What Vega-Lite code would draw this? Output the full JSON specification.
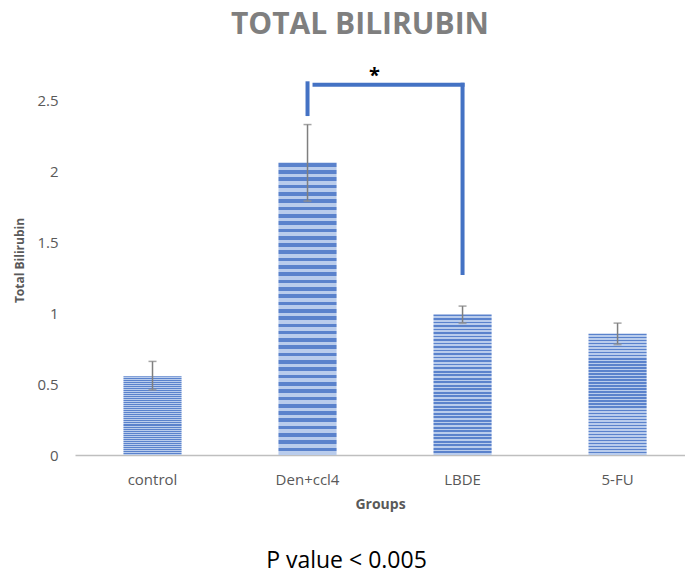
{
  "$schema": "https://vega.github.io/schema/vega-lite/v6.json",
  "background": "white",
  "padding": {"left": 13, "top": 10, "right": 0, "bottom": 0},
  "config": {
    "view": {"stroke": null},
    "font": "Open Sans"
  },
  "title": {
    "text": "P value < 0.005",
    "orient": "bottom",
    "anchor": "middle",
    "fontSize": 23,
    "fontWeight": "normal",
    "color": "#000000",
    "font": "Open Sans",
    "offset": 39,
    "dx": -3
  },
  "datasets": {
    "bars": [
      {"group": "control", "mean": 0.555, "lo": 0.46, "hi": 0.66},
      {"group": "Den+ccl4", "mean": 2.06, "lo": 1.79, "hi": 2.33},
      {"group": "LBDE", "mean": 0.99, "lo": 0.93, "hi": 1.05},
      {"group": "5-FU", "mean": 0.855, "lo": 0.78, "hi": 0.93}
    ],
    "bracketV": [
      {"g": "Den+ccl4", "y1": 2.39, "y2": 2.635},
      {"g": "LBDE", "y1": 1.27, "y2": 2.625}
    ],
    "bracketH": [
      {"g1": "Den+ccl4", "g2": "LBDE", "y": 2.61}
    ],
    "star": [
      {"g": "Den+ccl4", "y": 2.7, "label": "*"}
    ]
  },
  "vconcat": [
    {
      "width": 610,
      "height": 390,
      "title": {
        "text": "TOTAL BILIRUBIN",
        "anchor": "middle",
        "fontSize": 30,
        "fontWeight": "bold",
        "color": "#7F7F7F",
        "font": "Open Sans",
        "offset": 25,
        "dx": -20
      },
      "layer": [
        {
          "data": {"name": "bars"},
          "mark": {
            "type": "bar",
            "color": {
              "gradient": "linear",
              "x1": 0, "y1": 0, "x2": 0, "y2": 1,
              "stops": [
                {"offset": 0, "color": "#5A82CC"}, {"offset": 0.0125, "color": "#5A82CC"},
                {"offset": 0.0125, "color": "#B9CCEC"}, {"offset": 0.025, "color": "#B9CCEC"},
                {"offset": 0.025, "color": "#5A82CC"}, {"offset": 0.0375, "color": "#5A82CC"},
                {"offset": 0.0375, "color": "#B9CCEC"}, {"offset": 0.05, "color": "#B9CCEC"},
                {"offset": 0.05, "color": "#5A82CC"}, {"offset": 0.0625, "color": "#5A82CC"},
                {"offset": 0.0625, "color": "#B9CCEC"}, {"offset": 0.075, "color": "#B9CCEC"},
                {"offset": 0.075, "color": "#5A82CC"}, {"offset": 0.0875, "color": "#5A82CC"},
                {"offset": 0.0875, "color": "#B9CCEC"}, {"offset": 0.1, "color": "#B9CCEC"},
                {"offset": 0.1, "color": "#5A82CC"}, {"offset": 0.1125, "color": "#5A82CC"},
                {"offset": 0.1125, "color": "#B9CCEC"}, {"offset": 0.125, "color": "#B9CCEC"},
                {"offset": 0.125, "color": "#5A82CC"}, {"offset": 0.1375, "color": "#5A82CC"},
                {"offset": 0.1375, "color": "#B9CCEC"}, {"offset": 0.15, "color": "#B9CCEC"},
                {"offset": 0.15, "color": "#5A82CC"}, {"offset": 0.1625, "color": "#5A82CC"},
                {"offset": 0.1625, "color": "#B9CCEC"}, {"offset": 0.175, "color": "#B9CCEC"},
                {"offset": 0.175, "color": "#5A82CC"}, {"offset": 0.1875, "color": "#5A82CC"},
                {"offset": 0.1875, "color": "#B9CCEC"}, {"offset": 0.2, "color": "#B9CCEC"},
                {"offset": 0.2, "color": "#5A82CC"}, {"offset": 0.2125, "color": "#5A82CC"},
                {"offset": 0.2125, "color": "#B9CCEC"}, {"offset": 0.225, "color": "#B9CCEC"},
                {"offset": 0.225, "color": "#5A82CC"}, {"offset": 0.2375, "color": "#5A82CC"},
                {"offset": 0.2375, "color": "#B9CCEC"}, {"offset": 0.25, "color": "#B9CCEC"},
                {"offset": 0.25, "color": "#5A82CC"}, {"offset": 0.2625, "color": "#5A82CC"},
                {"offset": 0.2625, "color": "#B9CCEC"}, {"offset": 0.275, "color": "#B9CCEC"},
                {"offset": 0.275, "color": "#5A82CC"}, {"offset": 0.2875, "color": "#5A82CC"},
                {"offset": 0.2875, "color": "#B9CCEC"}, {"offset": 0.3, "color": "#B9CCEC"},
                {"offset": 0.3, "color": "#5A82CC"}, {"offset": 0.3125, "color": "#5A82CC"},
                {"offset": 0.3125, "color": "#B9CCEC"}, {"offset": 0.325, "color": "#B9CCEC"},
                {"offset": 0.325, "color": "#5A82CC"}, {"offset": 0.3375, "color": "#5A82CC"},
                {"offset": 0.3375, "color": "#B9CCEC"}, {"offset": 0.35, "color": "#B9CCEC"},
                {"offset": 0.35, "color": "#5A82CC"}, {"offset": 0.3625, "color": "#5A82CC"},
                {"offset": 0.3625, "color": "#B9CCEC"}, {"offset": 0.375, "color": "#B9CCEC"},
                {"offset": 0.375, "color": "#5A82CC"}, {"offset": 0.3875, "color": "#5A82CC"},
                {"offset": 0.3875, "color": "#B9CCEC"}, {"offset": 0.4, "color": "#B9CCEC"},
                {"offset": 0.4, "color": "#5A82CC"}, {"offset": 0.4125, "color": "#5A82CC"},
                {"offset": 0.4125, "color": "#B9CCEC"}, {"offset": 0.425, "color": "#B9CCEC"},
                {"offset": 0.425, "color": "#5A82CC"}, {"offset": 0.4375, "color": "#5A82CC"},
                {"offset": 0.4375, "color": "#B9CCEC"}, {"offset": 0.45, "color": "#B9CCEC"},
                {"offset": 0.45, "color": "#5A82CC"}, {"offset": 0.4625, "color": "#5A82CC"},
                {"offset": 0.4625, "color": "#B9CCEC"}, {"offset": 0.475, "color": "#B9CCEC"},
                {"offset": 0.475, "color": "#5A82CC"}, {"offset": 0.4875, "color": "#5A82CC"},
                {"offset": 0.4875, "color": "#B9CCEC"}, {"offset": 0.5, "color": "#B9CCEC"},
                {"offset": 0.5, "color": "#5A82CC"}, {"offset": 0.5125, "color": "#5A82CC"},
                {"offset": 0.5125, "color": "#B9CCEC"}, {"offset": 0.525, "color": "#B9CCEC"},
                {"offset": 0.525, "color": "#5A82CC"}, {"offset": 0.5375, "color": "#5A82CC"},
                {"offset": 0.5375, "color": "#B9CCEC"}, {"offset": 0.55, "color": "#B9CCEC"},
                {"offset": 0.55, "color": "#5A82CC"}, {"offset": 0.5625, "color": "#5A82CC"},
                {"offset": 0.5625, "color": "#B9CCEC"}, {"offset": 0.575, "color": "#B9CCEC"},
                {"offset": 0.575, "color": "#5A82CC"}, {"offset": 0.5875, "color": "#5A82CC"},
                {"offset": 0.5875, "color": "#B9CCEC"}, {"offset": 0.6, "color": "#B9CCEC"},
                {"offset": 0.6, "color": "#5A82CC"}, {"offset": 0.6125, "color": "#5A82CC"},
                {"offset": 0.6125, "color": "#B9CCEC"}, {"offset": 0.625, "color": "#B9CCEC"},
                {"offset": 0.625, "color": "#5A82CC"}, {"offset": 0.6375, "color": "#5A82CC"},
                {"offset": 0.6375, "color": "#B9CCEC"}, {"offset": 0.65, "color": "#B9CCEC"},
                {"offset": 0.65, "color": "#5A82CC"}, {"offset": 0.6625, "color": "#5A82CC"},
                {"offset": 0.6625, "color": "#B9CCEC"}, {"offset": 0.675, "color": "#B9CCEC"},
                {"offset": 0.675, "color": "#5A82CC"}, {"offset": 0.6875, "color": "#5A82CC"},
                {"offset": 0.6875, "color": "#B9CCEC"}, {"offset": 0.7, "color": "#B9CCEC"},
                {"offset": 0.7, "color": "#5A82CC"}, {"offset": 0.7125, "color": "#5A82CC"},
                {"offset": 0.7125, "color": "#B9CCEC"}, {"offset": 0.725, "color": "#B9CCEC"},
                {"offset": 0.725, "color": "#5A82CC"}, {"offset": 0.7375, "color": "#5A82CC"},
                {"offset": 0.7375, "color": "#B9CCEC"}, {"offset": 0.75, "color": "#B9CCEC"},
                {"offset": 0.75, "color": "#5A82CC"}, {"offset": 0.7625, "color": "#5A82CC"},
                {"offset": 0.7625, "color": "#B9CCEC"}, {"offset": 0.775, "color": "#B9CCEC"},
                {"offset": 0.775, "color": "#5A82CC"}, {"offset": 0.7875, "color": "#5A82CC"},
                {"offset": 0.7875, "color": "#B9CCEC"}, {"offset": 0.8, "color": "#B9CCEC"},
                {"offset": 0.8, "color": "#5A82CC"}, {"offset": 0.8125, "color": "#5A82CC"},
                {"offset": 0.8125, "color": "#B9CCEC"}, {"offset": 0.825, "color": "#B9CCEC"},
                {"offset": 0.825, "color": "#5A82CC"}, {"offset": 0.8375, "color": "#5A82CC"},
                {"offset": 0.8375, "color": "#B9CCEC"}, {"offset": 0.85, "color": "#B9CCEC"},
                {"offset": 0.85, "color": "#5A82CC"}, {"offset": 0.8625, "color": "#5A82CC"},
                {"offset": 0.8625, "color": "#B9CCEC"}, {"offset": 0.875, "color": "#B9CCEC"},
                {"offset": 0.875, "color": "#5A82CC"}, {"offset": 0.8875, "color": "#5A82CC"},
                {"offset": 0.8875, "color": "#B9CCEC"}, {"offset": 0.9, "color": "#B9CCEC"},
                {"offset": 0.9, "color": "#5A82CC"}, {"offset": 0.9125, "color": "#5A82CC"},
                {"offset": 0.9125, "color": "#B9CCEC"}, {"offset": 0.925, "color": "#B9CCEC"},
                {"offset": 0.925, "color": "#5A82CC"}, {"offset": 0.9375, "color": "#5A82CC"},
                {"offset": 0.9375, "color": "#B9CCEC"}, {"offset": 0.95, "color": "#B9CCEC"},
                {"offset": 0.95, "color": "#5A82CC"}, {"offset": 0.9625, "color": "#5A82CC"},
                {"offset": 0.9625, "color": "#B9CCEC"}, {"offset": 0.975, "color": "#B9CCEC"},
                {"offset": 0.975, "color": "#5A82CC"}, {"offset": 0.9875, "color": "#5A82CC"},
                {"offset": 0.9875, "color": "#B9CCEC"}, {"offset": 1, "color": "#B9CCEC"}
              ]
            }
          },
          "encoding": {
            "x": {
              "field": "group",
              "type": "nominal",
              "sort": null,
              "scale": {"paddingInner": 0.625, "paddingOuter": 0.28, "align": 0.558},
              "axis": {
                "title": "Groups",
                "labelAngle": 0,
                "labelFontSize": 15,
                "labelColor": "#595959",
                "labelPadding": 17,
                "ticks": false,
                "domainColor": "#BFBFBF",
                "domainWidth": 1.5,
                "titleFontSize": 14,
                "titleFontWeight": "bold",
                "titleColor": "#595959",
                "titlePadding": 10
              }
            },
            "y": {
              "field": "mean",
              "type": "quantitative",
              "scale": {"domain": [0, 2.75], "nice": false},
              "axis": {
                "title": "Total Bilirubin",
                "values": [0, 0.5, 1, 1.5, 2, 2.5],
                "format": "~g",
                "grid": false,
                "domain": false,
                "ticks": false,
                "labelFontSize": 15,
                "labelColor": "#595959",
                "labelPadding": 17,
                "titleFontSize": 12,
                "titleFontWeight": "bold",
                "titleColor": "#595959",
                "titlePadding": 10
              }
            }
          }
        },
        {
          "data": {"name": "bars"},
          "mark": {"type": "rule", "color": "#7F7F7F", "strokeWidth": 1.5},
          "encoding": {
            "x": {"field": "group", "type": "nominal", "sort": null},
            "y": {"field": "lo", "type": "quantitative"},
            "y2": {"field": "hi"}
          }
        },
        {
          "data": {"name": "bars"},
          "mark": {"type": "tick", "color": "#7F7F7F", "thickness": 1.5, "size": 8, "orient": "horizontal"},
          "encoding": {
            "x": {"field": "group", "type": "nominal", "sort": null},
            "y": {"field": "hi", "type": "quantitative"}
          }
        },
        {
          "data": {"name": "bars"},
          "mark": {"type": "tick", "color": "#8F8F8F", "thickness": 2, "size": 8, "orient": "horizontal"},
          "encoding": {
            "x": {"field": "group", "type": "nominal", "sort": null},
            "y": {"field": "lo", "type": "quantitative"}
          }
        },
        {
          "data": {"name": "bracketV"},
          "mark": {"type": "rule", "color": "#4472C4", "strokeWidth": 4},
          "encoding": {
            "x": {"field": "g", "type": "nominal", "sort": null},
            "y": {"field": "y1", "type": "quantitative"},
            "y2": {"field": "y2"}
          }
        },
        {
          "data": {"name": "bracketH"},
          "mark": {"type": "rule", "color": "#4472C4", "strokeWidth": 4, "xOffset": 5, "x2Offset": 2},
          "encoding": {
            "x": {"field": "g1", "type": "nominal", "sort": null},
            "x2": {"field": "g2"},
            "y": {"field": "y", "type": "quantitative"}
          }
        },
        {
          "data": {"name": "star"},
          "mark": {"type": "text", "fontSize": 20, "fontWeight": "bold", "color": "#000000", "dx": 67, "dy": 4},
          "encoding": {
            "x": {"field": "g", "type": "nominal", "sort": null},
            "y": {"field": "y", "type": "quantitative"},
            "text": {"field": "label"}
          }
        }
      ]
    }
  ]
}
